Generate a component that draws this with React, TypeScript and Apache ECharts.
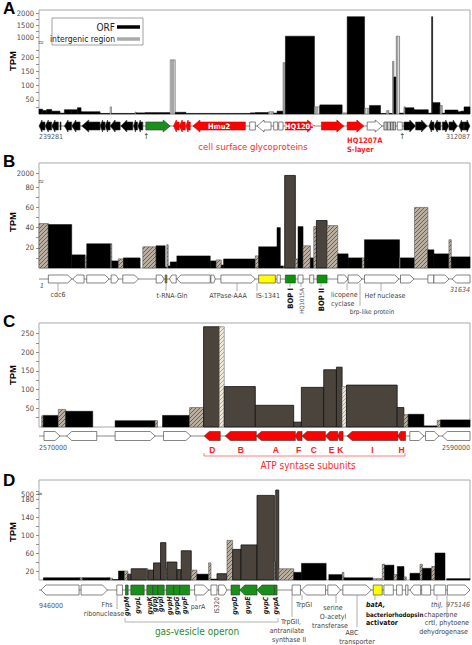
import React, { useEffect, useRef } from "react";
import * as echarts from "echarts";

const FONT = "'Liberation Sans', Arial, Helvetica, sans-serif";
const FONT_N = "'Liberation Sans Narrow', 'DejaVu Sans Condensed', 'Liberation Sans', sans-serif";

// ---------------- Panel A ----------------
const aRange = [239281, 312087];
const aEdges = [239281, 239901, 240578, 241424, 242834, 243567, 244808, 245767, 246387, 249602, 251294, 251520, 255524, 255693, 257216, 261446, 262292, 264097, 274982, 275828, 278084, 278930, 279494, 280509, 280904, 285811, 286713, 290492, 291338, 294271, 295117, 296978, 297993, 298388, 299009, 299234, 299629, 300193, 300926, 301152, 302618, 305043, 305607, 305777, 307017, 307412, 307863, 310063, 310514, 311078, 312087];
const aTpm = [17, 12, 16, 10, 3, 15, 15, 22, 8, 2, 25, 2, 7, 4, 5, 190, 6, 2, 4, 5, 8, 3, 10, 180, 1050, 25, 32, 4, 1850, 20, 30, 2, 12, 2, 185, 130, 1050, 3, 25, 22, 15, 3, 1850, 40, 30, 3, 14, 8, 10, 25];
const aKinds = ("oooooooooo" + "aoaooaoooo" + "aooaoaoaoa" + "ooaoaoaoao" + "ooooaooooo").split("");
const aTicks = [50, 100, 150, 200, 1000, 1500, 2000];
const aMinor = [25, 75, 125, 175, 225, 1250, 1750];
const aGenes: any[] = [
  [239281, 240296, -1, "k"], [240296, 241424, -1, "k"], [241424, 242552, -1, "k"], [242834, 243003, 0, "k"],
  [243567, 244808, -1, "k"], [244808, 246218, -1, "k"], [246500, 249602, -1, "k"], [249602, 250448, -1, "k"],
  [250448, 251294, -1, "k"], [251294, 252986, -1, "k"], [253099, 255129, -1, "k"], [255242, 255919, -1, "k"],
  [255975, 256821, -1, "k"], [257329, 261446, 1, "g"], [262010, 262969, -1, "r"], [262969, 263984, -1, "r"],
  [264097, 264830, -1, "r"], [265281, 274136, -1, "r", "Hmu2"], [274869, 275828, 0, "w"], [276110, 278479, -1, "w"],
  [278930, 279607, 0, "w"], [279776, 280509, 0, "w"], [280904, 285811, 1, "r", "HQ1205"], [286995, 290774, 1, "r"],
  [291338, 294158, 1, "r"], [294722, 297260, 1, "w"], [297542, 298106, 0, "s"], [298106, 298670, 0, "s"],
  [298670, 299121, 0, "s"], [299121, 299516, 0, "s"], [299798, 300644, 0, "w"], [300926, 302900, 1, "k"],
  [302900, 304874, 1, "k"], [305156, 306002, -1, "k"], [306002, 307130, -1, "k"], [307412, 308540, 1, "k"],
  [308540, 309950, 1, "k"], [310232, 311078, -1, "k"], [311078, 312087, 1, "k"],
];

// ---------------- Panel B ----------------
const bRange = [1, 31634];
const bEdges = [1, 687, 2402, 3382, 3504, 5268, 5342, 5832, 6199, 7424, 7620, 8600, 9262, 9384, 9482, 9629, 10119, 12569, 13010, 13378, 13549, 15877, 16122, 17469, 17714, 17959, 18033, 18817, 19013, 19380, 19919, 20164, 20360, 21144, 21928, 22688, 23717, 23888, 26461, 26534, 27563, 28543, 28984, 30087, 30258, 31634];
const bTpm = [44, 43, 13, 12, 24, 24, 7, 9, 10, 0, 21, 22, 1, 23, 2, 6, 12, 7, 8, 3, 9, 12, 21, 40, 2, 2, 1700, 9, 41, 22, 10, 41, 47, 42, 14, 10, 10, 28, 10, 10, 60, 18, 14, 28, 11];
const bKinds = ("iooioioioo" + "iooiooooio" + "oioooigioi" + "oigiooioio" + "iooio").split("");
const bTicks = [20, 40, 60, 80, 2000];
const bMinor = [10, 30, 50, 70];
const bGenes: any[] = [
  [687, 2402, 1, "w"], [2475, 3308, -1, "w"], [3504, 5146, 1, "w"], [5293, 5832, 1, "w"], [6150, 7302, 1, "w"],
  [8600, 9188, 1, "w"], [9262, 9384, 0, "o"], [9580, 10070, -1, "w"], [10119, 12569, -1, "w"], [12618, 12937, 1, "w"],
  [13353, 15877, 1, "w"], [16122, 17347, 0, "y"], [17469, 17714, 0, "w"], [18082, 18817, 0, "G"], [19013, 19380, 0, "w"],
  [19870, 20164, 0, "w"], [20409, 21144, 0, "G"], [21928, 22688, 1, "w"], [22688, 23717, 1, "w"], [23888, 26412, 1, "w"],
  [26534, 27514, 1, "w"], [28543, 28984, 0, "w"], [28984, 30087, 1, "w"], [30332, 31634, -1, "w"],
];

// ---------------- Panel C ----------------
const cRange = [2570000, 2590000];
const cEdges = [2570000, 2570124, 2570201, 2570898, 2571239, 2572494, 2573532, 2575391, 2575499, 2575731, 2576986, 2577637, 2578365, 2578597, 2580038, 2581819, 2582175, 2583213, 2583802, 2584065, 2584266, 2586621, 2586931, 2587132, 2587860, 2588480, 2588635, 2590000];
const cTpm = [0, 30, 31, 47, 42, 0, 17, 17, 0, 31, 52, 268, 268, 108, 58, 13, 106, 153, 160, 108, 112, 52, 33, 34, 3, 18, 19];
const cKinds = ("oioioooioo" + "iglggggggl" + "ggiooio").split("");
const cTicks = [50, 100, 150, 200, 250];
const cMinor = [25, 75, 125, 175, 225];
const cGenes: any[] = [
  [2570232, 2570976, 1, "w"], [2571286, 2572680, -1, "w"], [2573532, 2575391, 1, "w"], [2575778, 2577048, 1, "w"],
  [2577668, 2578411, -1, "r", "D"], [2578643, 2580084, -1, "r", "B"], [2580084, 2581896, -1, "r", "A"],
  [2581896, 2582206, -1, "r", "F"], [2582206, 2583290, -1, "r", "C"], [2583290, 2583864, -1, "r", "E"],
  [2583864, 2584111, -1, "r", "K"], [2584297, 2586652, -1, "r", "I"], [2586652, 2587008, -1, "r", "H"],
  [2587209, 2587860, 1, "w"], [2587937, 2588557, 1, "w"], [2588712, 2590000, -1, "w"],
];

// ---------------- Panel D ----------------
const dRange = [946000, 975146];
const dEdges = [946000, 946294, 948777, 948958, 950810, 950968, 951374, 951780, 952006, 952232, 953293, 953361, 953745, 954219, 954580, 954648, 955326, 955619, 956296, 956680, 957471, 957629, 958035, 958713, 959096, 959661, 960745, 961919, 962009, 962212, 963229, 963748, 965419, 965599, 966503, 966616, 968580, 969212, 969370, 970003, 970228, 970680, 970838, 971086, 971764, 971922, 972554, 972780, 973457, 973570, 975146];
const dTpm = [0, 5, 5, 5, 4, 1, 20, 20, 13, 25, 25, 22, 38, 83, 25, 40, 23, 65, 22, 13, 38, 2, 14, 88, 68, 78, 188, 40, 570, 25, 17, 37, 0, 12, 17, 5, 3, 35, 33, 12, 30, 7, 0, 15, 35, 26, 30, 60, 0, 3];
const dKinds = ("ooioiooigg" + "igggigggio" + "iogigggigi" + "ooooioiioi" + "oiooioiooo").split("");
const dTicks = [20, 60, 100, 140, 180, 500, 600];
const dMinor = [40, 80, 120, 160, 550];
const dGenes: any[] = [
  [946135, 948710, -1, "w"], [948845, 950629, 1, "w"], [951261, 951645, 0, "w"], [951848, 952029, 0, "g", "gvpM"],
  [952210, 953113, 0, "g", "gvpL"], [953293, 953700, 0, "g", "gvpK"], [953700, 954038, 0, "g", "gvpJ"],
  [954038, 954468, 0, "g", "gvpI"], [954603, 955100, 0, "g", "gvpH"], [955100, 955506, 0, "g", "gvpG"],
  [955506, 956184, 0, "g", "gvpF"], [956522, 957471, 1, "w"], [957629, 958035, 0, "w"], [958148, 958713, 1, "w"],
  [958984, 959571, 0, "g", "gvpD"], [959571, 960745, -1, "g", "gvpE"], [960745, 961919, -1, "g", "gvpC"],
  [961919, 962100, 0, "g", "gvpA"], [963116, 963680, 0, "w"], [963748, 965374, -1, "w"], [965532, 966390, 1, "w"],
  [966548, 968467, 1, "w"], [968603, 969212, 0, "y"], [969325, 969957, 0, "w"], [970183, 970567, 0, "w"],
  [970793, 970951, 0, "w"], [971086, 971809, -1, "w"], [971877, 972486, 0, "w"], [972712, 973502, 0, "w"],
  [973615, 975146, 1, "w"],
];

// broken-axis transforms (value -> display height)
const tA = (v: number) => (v <= 300 ? v * 0.285 : 76.6 + (v - 1000) * 0.0244);
const tB = (v: number) => (v <= 100 ? v * 1.01 : 88.5 + (v - 1000) * 0.0058);
const tC = (v: number) => v;
const tD = (v: number) => (v <= 200 ? v * 0.45 : 86 + (v - 500) * 0.0567);

const GENE_COLORS: Record<string, string> = {
  k: "#000000", g: "#1a901a", r: "#ff0000", w: "#ffffff", s: "#c8c8c8", y: "#ffff00", o: "#a09000", G: "#0a960a",
};

function makePattern(base: string, line: string, dir: string) {
  const c = document.createElement("canvas");
  c.width = 4;
  c.height = 4;
  const ctx = c.getContext("2d");
  if (!ctx) return base;
  ctx.fillStyle = base;
  ctx.fillRect(0, 0, 4, 4);
  ctx.strokeStyle = line;
  ctx.lineWidth = 1;
  ctx.beginPath();
  if (dir === "d") {
    ctx.moveTo(0, 4); ctx.lineTo(4, 0);
    ctx.moveTo(-1, 1); ctx.lineTo(1, -1);
    ctx.moveTo(3, 5); ctx.lineTo(5, 3);
  } else {
    ctx.moveTo(2.5, 0); ctx.lineTo(2.5, 4);
  }
  ctx.stroke();
  return { image: c, repeat: "repeat", imageWidth: 4, imageHeight: 4 };
}

function buildOption() {
  const pats: any = {
    i: makePattern("#b9ae9f", "#6d6357", "d"),
    l: makePattern("#efe6da", "#b9ab98", "d"),
    a: makePattern("#a6a6a6", "#d8d8d8", "v"),
  };
  const barStyle = (k: string): any => {
    switch (k) {
      case "g": return { fill: "#4a443d", stroke: "#111", lineWidth: 0.8 };
      case "i": return { fill: pats.i, stroke: "#555", lineWidth: 0.6 };
      case "l": return { fill: pats.l, stroke: "#777", lineWidth: 0.6 };
      case "a": return { fill: pats.a, stroke: "#666", lineWidth: 0.6 };
      default: return { fill: "#000", stroke: "#000", lineWidth: 0.5 };
    }
  };

  const panels = [
    { range: aRange, edges: aEdges, tpm: aTpm, kinds: aKinds, genes: aGenes, tf: tA, yMax: 104, ticks: aTicks, minor: aMinor, top: 10, h: 104, gTop: 120, gH: 12, body: 4, head: 6, len: 7, frac: 0.5, mode: "inside" },
    { range: bRange, edges: bEdges, tpm: bTpm, kinds: bKinds, genes: bGenes, tf: tB, yMax: 105, ticks: bTicks, minor: bMinor, top: 163, h: 105, gTop: 275, gH: 8, body: 4, head: 4, len: 4, frac: 0.35, mode: "none" },
    { range: cRange, edges: cEdges, tpm: cTpm, kinds: cKinds, genes: cGenes, tf: tC, yMax: 278, ticks: cTicks, minor: cMinor, top: 323, h: 104, gTop: 432, gH: 8, body: 4.5, head: 4.5, len: 5, frac: 0.35, mode: "below" },
    { range: dRange, edges: dEdges, tpm: dTpm, kinds: dKinds, genes: dGenes, tf: tD, yMax: 100, ticks: dTicks, minor: dMinor, top: 480, h: 100, gTop: 586, gH: 8, body: 5, head: 5, len: 5, frac: 0.35, mode: "rotated" },
  ];

  const grid: any[] = [];
  const xAxis: any[] = [];
  const yAxis: any[] = [];
  const series: any[] = [];

  panels.forEach((p, i) => {
    const gi = i * 2;
    grid.push({ left: 39, width: 431, top: p.top, height: p.h, show: true, borderColor: "#a8a8a8", borderWidth: 1, outerBoundsMode: "none" });
    grid.push({ left: 39, width: 431, top: p.gTop, height: p.gH, show: false, outerBoundsMode: "none" });
    [gi, gi + 1].forEach((g) => xAxis.push({ type: "value", gridIndex: g, min: p.range[0], max: p.range[1], show: false }));
    const tf = p.tf;
    const ticks = p.ticks;
    yAxis.push({
      type: "value", gridIndex: gi, min: 0, max: p.yMax,
      axisLine: { show: false },
      splitLine: { show: false },
      axisTick: { show: true, inside: false, length: 3, lineStyle: { color: "#777", width: 0.8 }, customValues: ticks.concat(p.minor).map(tf) },
      axisLabel: {
        show: true, fontSize: 7.5, color: "#4a4a4a", fontFamily: FONT_N, margin: 5,
        customValues: ticks.map(tf),
        formatter: (v: number) => {
          const t = ticks.find((t) => Math.abs(tf(t) - v) < 1e-6);
          return t == null ? "" : String(t);
        },
      },
    });
    yAxis.push({ type: "value", gridIndex: gi + 1, min: -1, max: 1, show: false });

    const kinds = p.kinds;
    series.push({
      type: "custom", xAxisIndex: gi, yAxisIndex: gi, z: 2,
      data: p.edges.slice(0, -1).map((e, k) => [e, p.edges[k + 1], tf(p.tpm[k])]),
      encode: { x: [0, 1], y: 2 },
      renderItem: (params: any, api: any) => {
        const y = api.value(2);
        if (!(y > 0)) return null;
        const a = api.coord([api.value(0), y]);
        const b = api.coord([api.value(1), 0]);
        return {
          type: "rect",
          shape: { x: a[0], y: a[1], width: Math.max(b[0] - a[0], 1), height: b[1] - a[1] },
          style: barStyle(kinds[params.dataIndex]),
        };
      },
    });

    series.push({
      type: "line", xAxisIndex: gi + 1, yAxisIndex: gi + 1, z: 1, silent: true, symbol: "none",
      data: [[p.range[0], 0], [p.range[1], 0]],
      lineStyle: { color: "#8a8a8a", width: 1 },
    });

    const genes = p.genes;
    series.push({
      type: "custom", xAxisIndex: gi + 1, yAxisIndex: gi + 1, z: 3,
      data: genes.map((g) => [g[0], g[1], 0]),
      encode: { x: [0, 1], y: 2 },
      renderItem: (params: any, api: any) => {
        const g = genes[params.dataIndex];
        const a = api.coord([g[0], 0]);
        const b = api.coord([g[1], 0]);
        const x0 = a[0], x1 = b[0], cy = a[1];
        const w = x1 - x0;
        const hb = p.body, hh = p.head;
        const hl = Math.min(p.len, w * p.frac);
        let pts: number[][];
        if (g[2] === 1) pts = [[x0, cy - hb], [x1 - hl, cy - hb], [x1 - hl, cy - hh], [x1, cy], [x1 - hl, cy + hh], [x1 - hl, cy + hb], [x0, cy + hb]];
        else if (g[2] === -1) pts = [[x1, cy - hb], [x0 + hl, cy - hb], [x0 + hl, cy - hh], [x0, cy], [x0 + hl, cy + hh], [x0 + hl, cy + hb], [x1, cy + hb]];
        else pts = [[x0, cy - hb], [x1, cy - hb], [x1, cy + hb], [x0, cy + hb]];
        const col = GENE_COLORS[g[3]];
        const stroke = g[3] === "r" && p.mode === "inside" ? "#d00000" : "#333";
        const children: any[] = [{ type: "polygon", shape: { points: pts }, style: { fill: col, stroke, lineWidth: 0.6 } }];
        const label = g[4];
        const cx = (x0 + x1) / 2;
        if (label) {
          if (p.mode === "inside") {
            children.push({ type: "text", x: cx, y: cy, style: { text: label, fill: "#fff", fontSize: 7.5, fontWeight: "bold", fontFamily: FONT_N, align: "center", verticalAlign: "middle" } });
          } else if (p.mode === "below") {
            children.push({ type: "text", x: cx, y: cy + 14, style: { text: label, fill: "#ff1a1a", fontSize: 8.5, fontWeight: "bold", fontFamily: FONT, align: "center", verticalAlign: "middle" } });
          } else if (p.mode === "rotated") {
            children.push({ type: "text", x: cx, y: cy + 6.5, rotation: Math.PI / 2, style: { text: label, fill: "#222", fontSize: 7, fontWeight: "bold", fontStyle: "italic", fontFamily: FONT_N, align: "right", verticalAlign: "middle" } });
          }
        }
        return { type: "group", children };
      },
    });
  });

  const txt = (x: number, y: number, text: string, o: any = {}) => ({
    type: "text", x, y, z: 50, silent: true, rotation: o.rot || 0,
    style: {
      text, fontSize: o.size || 7, fontFamily: o.font || FONT_N, fill: o.color || "#444",
      fontWeight: o.bold ? "bold" : "normal", fontStyle: o.italic ? "italic" : "normal",
      align: o.align || "center", verticalAlign: o.va || "middle",
    },
  });
  const ln = (x1: number, y1: number, x2: number, y2: number, color = "#999", w = 0.8) => ({
    type: "line", z: 50, silent: true, shape: { x1, y1, x2, y2 }, style: { stroke: color, lineWidth: w },
  });
  const ROT = Math.PI / 2;

  const graphic: any[] = [
    // panel letters
    txt(3, 8, "A", { size: 17, bold: true, color: "#000", align: "left", font: FONT }),
    txt(3, 161, "B", { size: 17, bold: true, color: "#000", align: "left", font: FONT }),
    txt(3, 321, "C", { size: 17, bold: true, color: "#000", align: "left", font: FONT }),
    txt(3, 480, "D", { size: 17, bold: true, color: "#000", align: "left", font: FONT }),
    // TPM
    txt(12, 61, "TPM", { size: 9.5, bold: true, color: "#000", rot: ROT, font: FONT }),
    txt(12, 222, "TPM", { size: 9.5, bold: true, color: "#000", rot: ROT, font: FONT }),
    txt(12, 375, "TPM", { size: 9.5, bold: true, color: "#000", rot: ROT, font: FONT }),
    txt(12, 532, "TPM", { size: 9.5, bold: true, color: "#000", rot: ROT, font: FONT }),
    // axis break marks
    txt(41, 42, "≈", { size: 8, color: "#555" }),
    txt(41, 181, "≈", { size: 8, color: "#555" }),
    txt(40, 494, "≈", { size: 7, color: "#555" }),
    // legend
    { type: "rect", z: 40, silent: true, shape: { x: 52, y: 18, width: 91, height: 27 }, style: { fill: "#fff", stroke: "#888", lineWidth: 0.8 } },
    txt(115, 27, "ORF", { size: 10, color: "#222", align: "right" }),
    ln(117, 27, 140, 27, "#000", 3.5),
    txt(115, 39, "intergenic region", { size: 8.5, color: "#222", align: "right" }),
    ln(117, 39, 140, 39, "#aaaaaa", 3.5),
    // panel A annotations
    txt(39, 137, "239281", { size: 7, color: "#555", align: "left" }),
    txt(470, 137, "312087", { size: 7, color: "#555", align: "right" }),
    txt(146, 136, "↑", { size: 8, color: "#333" }),
    txt(402, 136, "↑", { size: 8, color: "#333" }),
    txt(253, 146, "cell surface glycoproteins", { size: 9.5, color: "#ff2a2a" }),
    txt(347, 140, "HQ1207A", { size: 7.5, color: "#ff1a1a", bold: true, align: "left" }),
    txt(347, 149, "S-layer", { size: 7.5, color: "#ff1a1a", bold: true, align: "left" }),
    // panel B annotations
    txt(40, 286, "1", { size: 7, color: "#555", italic: true, align: "left" }),
    ln(58, 283, 58, 291), txt(58, 295, "cdc6"),
    ln(166, 283, 166, 291), txt(172, 296, "t-RNA-Gln"),
    ln(237, 283, 237, 291), txt(228, 296, "ATPase-AAA"),
    ln(257, 283, 257, 291), txt(268, 296, "IS-1341"),
    ln(290, 283, 290, 287), txt(290, 288, "BOP I", { size: 7.5, bold: true, color: "#111", rot: ROT, align: "right" }),
    ln(301, 283, 301, 287), txt(301, 288, "HQ1015A", { size: 6, color: "#555", rot: ROT, align: "right" }),
    ln(321, 283, 321, 287), txt(321, 288, "BOP II", { size: 7.5, bold: true, color: "#111", rot: ROT, align: "right" }),
    ln(347, 283, 347, 290), txt(331, 295, "licopene", { align: "left" }), txt(331, 304, "cyclase", { align: "left" }),
    ln(360, 283, 360, 306), txt(372, 312, "brp-like protein", { size: 6.5 }),
    ln(381, 283, 381, 291), txt(385, 296, "Hef nuclease"),
    txt(470, 290, "31634", { size: 7, color: "#555", italic: true, align: "right" }),
    // panel C annotations
    txt(39, 448, "2570000", { size: 7, color: "#555", align: "left" }),
    txt(470, 448, "2590000", { size: 7, color: "#555", align: "right" }),
    ln(204, 456, 405, 456, "#ff7070", 0.9), ln(204, 453, 204, 456, "#ff7070", 0.9), ln(405, 453, 405, 456, "#ff7070", 0.9),
    txt(308, 465, "ATP syntase subunits", { size: 10, color: "#ff2a2a" }),
    // panel D annotations
    txt(39, 606, "946000", { size: 7, color: "#555", align: "left" }),
    ln(117, 595, 117, 609), txt(107, 605, "Fhs"), txt(104, 614, "ribonuclease"),
    ln(196, 595, 196, 601), txt(198, 607, "parA"),
    txt(217, 597, "IS320", { size: 6.5, color: "#444", rot: ROT, align: "right" }),
    ln(125, 622, 278, 622, "#aaa", 0.9), ln(125, 618, 125, 622, "#aaa", 0.9), ln(278, 618, 278, 622, "#aaa", 0.9),
    txt(197, 631, "gas-vesicle operon", { size: 10, color: "#2e8b2e" }),
    ln(292, 595, 292, 617), txt(291, 622, "TrpGII,"), txt(287, 631, "antranilate"), txt(289, 640, "synthase II"),
    ln(302, 595, 302, 600), txt(304, 605, "TrpGI"),
    ln(336, 595, 336, 603), txt(333, 608, "serine"), txt(333, 617, "O-acetyl"), txt(330, 626, "transferase"),
    ln(357, 595, 357, 627), txt(352, 633, "ABC"), txt(357, 642, "transporter"),
    ln(375, 595, 375, 600),
    txt(366, 605, "batA,", { size: 7, bold: true, italic: true, color: "#111", align: "left" }),
    txt(366, 614, "bacteriorhodopsin", { size: 6.2, bold: true, color: "#111", align: "left" }),
    txt(366, 623, "activator", { size: 7, bold: true, color: "#111", align: "left" }),
    ln(437, 595, 437, 600), txt(437, 605, "thiJ,", { italic: true }), txt(424, 615, "chaperone", { align: "left" }),
    txt(470, 605, "975146", { size: 7, color: "#555", italic: true, align: "right" }),
    ln(447, 595, 447, 618), txt(469, 623, "crtI, phytoene", { align: "right" }), txt(468, 632, "dehydrogenase", { align: "right" }),
  ];

  return { animation: false, backgroundColor: "#fff", grid, xAxis, yAxis, series, graphic };
}

export default function App() {
  const ref = useRef<HTMLDivElement>(null);
  useEffect(() => {
    document.body.style.margin = "0";
    const chart = echarts.init(ref.current as HTMLDivElement, null, { renderer: "svg" });
    chart.setOption(buildOption() as any);
    return () => chart.dispose();
  }, []);
  return <div ref={ref} style={{ width: 472, height: 645 }} />;
}
